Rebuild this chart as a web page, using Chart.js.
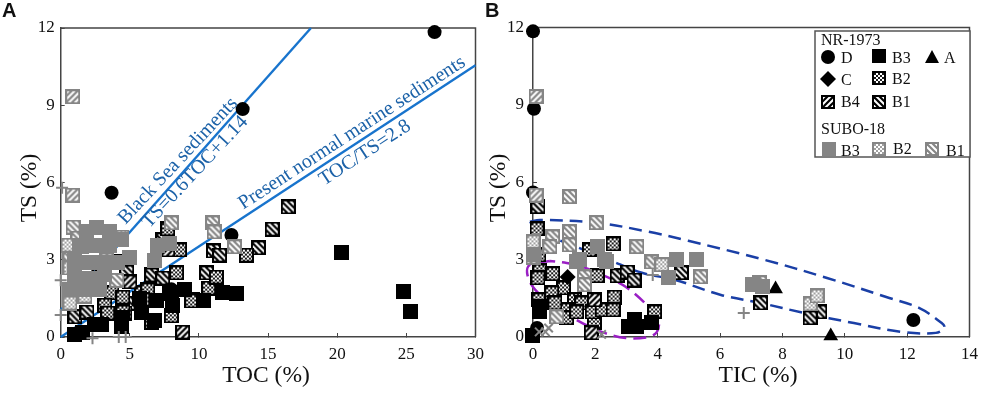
<!DOCTYPE html>
<html><head><meta charset="utf-8">
<style>html,body{margin:0;padding:0;background:#fff;width:989px;height:393px;overflow:hidden}
#wa{position:absolute;left:0;top:0;width:495px;height:393px}
#wb{position:absolute;left:470px;top:0;width:519px;height:393px}</style>
<script src="https://cdn.jsdelivr.net/npm/chart.js@4/dist/chart.umd.min.js"></script>
</head><body>
<div id="wa"><canvas id="a"></canvas></div>
<div id="wb"><canvas id="b"></canvas></div>
<script>
// ---- Panel A: [TOC, TS]
const aSuboB3=[[2.62,4.27],[3.55,4.08],[1.9,4.08],[1.39,3.57],[2.47,3.57],[3.55,3.57],[4.42,3.77],[5.0,3.07],[1.03,2.99],[2.11,2.91],[3.19,2.91],[4.13,2.91],[1.03,2.41],[2.11,2.29],[3.19,2.41],[0.67,1.83],[1.75,1.83],[2.83,1.83],[6.8,2.99],[7.0,3.57],[7.88,3.65]];
const aSuboB2=[[4.42,3.88],[1.75,1.59],[0.67,1.32],[0.67,2.68],[0.53,3.57]];
const aSuboB1=[[0.87,9.33],[0.87,5.51],[0.89,4.27],[1.25,3.84],[1.54,3.5],[0.67,3.1],[3.34,2.99],[4.06,2.2],[8.0,4.43],[10.98,4.43],[11.1,4.08],[12.57,3.5]];
const aCross=[[0,2.2],[0,0.85],[0.1,5.8],[2.3,-0.05],[4.2,0],[4.7,0]];
const aB3=[[20.33,3.27],[24.8,1.75],[25.3,1.0],[12.7,1.67],[11.7,1.71],[10.3,1.4],[8.96,1.83],[8.1,1.24],[6.94,1.4],[5.86,0.97],[6.8,0.66],[7.88,1.71],[5.72,1.51],[2.98,0.47],[4.42,0.39],[4.42,0.74],[1.03,0.08],[1.61,0.16],[2.47,0.47]];
const aD=[[3.68,5.6],[13.16,8.85],[12.35,3.96],[27.04,11.84],[8.0,1.85]];
const aC=[[2.33,2.33]];
const aA=[[3.12,3.57]];
const aB4=[[7.74,3.38],[8.82,0.19],[8.0,1.7],[5.0,2.14]];
const aB2=[[3.05,2.41],[3.7,1.71],[3.19,1.24],[4.49,1.55],[5.86,1.71],[3.4,0.93],[4.64,0.93],[4.5,0.97],[6.3,1.83],[5.93,1.44],[6.58,0.58],[8.0,0.82],[8.38,2.49],[9.55,1.44],[10.7,1.9],[11.26,2.33],[8.6,3.38],[7.74,4.2],[9.47,1.4],[13.43,3.18]];
const aB1=[[1.03,0.78],[1.9,0.97],[4.27,2.95],[4.78,2.52],[5.14,1.32],[6.58,2.41],[7.38,2.29],[7.38,3.77],[10.55,2.49],[11.05,3.34],[11.49,3.18],[14.3,3.46],[15.3,4.19],[16.46,5.05]];
const lineBlackSea=[[0,1.05],[18.1,12]];
const lineNormal=[[0,0],[30,10.55]];
// ---- Panel B: [TIC, TS]
const bSuboB3=[[2.06,3.5],[1.49,3],[2.29,3],[2.35,2.91],[4.35,2.29],[4.6,3],[5.24,3],[7.05,2.02],[7.37,1.94],[1.4,2.91],[0,3.18]];
const bSuboB2=[[0,3.69],[4.13,2.8],[8.89,1.28],[9.11,1.59]];
const bSuboB1=[[0.1,9.32],[0.1,5.5],[1.17,5.44],[2.03,4.43],[1.17,4.08],[0.63,3.88],[1.17,3.57],[0.54,3.5],[3.33,3.5],[3.81,2.91],[5.37,2.33],[1.65,2.33],[1.65,2.02],[0.76,0.78],[7.27,2.1],[0,3.1]];
const bCross=[[6.76,0.93],[3.84,2.4]];
const bStar=[[0.2,0.2],[0.4,0.2],[0.5,0.35],[2.2,0.1]];
const bB3=[[3.05,0.39],[3.33,0.39],[3.27,0.66],[3.81,0.58],[-0.03,0.04],[0.22,0.97],[0.22,1.2]];
const bD=[[0,11.85],[0.03,8.85],[0,5.6],[0.13,0.35],[12.2,0.66]];
const bC=[[1.11,2.33]];
const bA=[[7.78,1.86],[9.55,0.04]];
const bB4=[[1.87,0.16],[1.97,1.44]];
const bB2=[[0.13,4.19],[0.19,3.18],[0.22,2.56],[0.16,2.29],[0.63,2.45],[1.81,3.38],[2.57,3.61],[2.06,2.37],[0.98,1.9],[0.19,1.44],[0.6,1.71],[1.33,1.44],[1.56,1.32],[1.08,1.05],[1.08,0.74],[0.7,1.32],[1.97,0.58],[1.9,0.97],[2.22,1.05],[2.6,1.55],[2.57,1.05],[3.9,0.97],[1.4,0.97]];
const bB1=[[0.16,5.05],[2.7,2.37],[3.02,2.52],[3.24,2.21],[4.76,2.49],[7.3,1.32],[9.2,0.97],[8.89,0.74]];
const blueLoop=[[-0.1,4.47],[0.22,4.54],[2.03,4.43],[3.71,4.08],[4.98,3.73],[7.43,2.99],[9.43,2.29],[11.33,1.55],[12.38,1.13],[13.1,0.55],[13.2,0.36],[12.92,0.16],[11.87,0.19],[10.29,0.54],[8.7,0.93],[7.3,1.32],[6.03,1.63],[4.57,2.21],[3.49,2.49],[2.44,2.99],[1.4,3.49],[0.32,4.04],[-0.1,4.47]];
const purpleLoop=[[0.54,2.95],[-0.1,2.8],[-0.19,2.49],[0,1.94],[0.54,1.32],[1.4,0.66],[2.22,0.19],[2.98,-0.04],[3.71,0],[3.97,0.19],[4.03,0.58],[3.71,1.16],[2.98,1.94],[2.22,2.41],[1.59,2.72],[1.08,2.87],[0.54,2.95]];
const xTicksA=[0,5,10,15,20,25,30];
const xTicksB=[0,2,4,6,8,10,12,14];
const yTicks=[0,3,6,9,12];

const GREY='#858585', SERIF='"Liberation Serif","Times New Roman",serif';
function tile(kind,s){
  const c=document.createElement('canvas');c.width=c.height=s;const g=c.getContext('2d');
  const sub=kind[0]==='s';const edge=sub?GREY:'#000';const k=kind.slice(1);
  g.fillStyle=edge;g.fillRect(0,0,s,s);
  if(k==='solid')return c;
  const m=2;g.save();g.beginPath();g.rect(m,m,s-2*m,s-2*m);g.clip();
  if(k==='dot'){
    g.fillStyle='#fff';g.fillRect(m,m,s-2*m,s-2*m);
    g.fillStyle=sub?'#a0a0a0':'#1a1a1a';
    for(let y=0;y<s;y+=2)for(let x=0;x<s;x+=2)if(((x+y)/2)%2===0)g.fillRect(x,y,2,2);
  }else{
    g.strokeStyle='#fff';g.lineWidth=2;
    for(let i=-s-1;i<2*s;i+=6){g.beginPath();
      if(k==='fwd'){g.moveTo(i,s);g.lineTo(i+s,0);}else{g.moveTo(i,0);g.lineTo(i+s,s);}
      g.stroke();}
  }
  g.restore();return c;
}
const T={kB3:tile('ksolid',15),kB2:tile('kdot',15),kB4:tile('kfwd',15),kB1:tile('kbak',15),
  sB3:tile('ssolid',15),sB2:tile('sdot',15),sB1:tile('sbak',15),sF:tile('sfwd',15)};
const LT={kB3:tile('ksolid',14),kB2:tile('kdot',14),kB4:tile('kfwd',14),kB1:tile('kbak',14),
  sB3:tile('ssolid',14),sB2:tile('sdot',14),sB1:tile('sbak',14)};
const pts=a=>a.map(p=>({x:p[0],y:p[1]}));
const marks=(d,style,extra)=>Object.assign({data:pts(d),pointStyle:style,radius:7.5,backgroundColor:'#000',borderColor:'#000',borderWidth:0,showLine:false,clip:false},extra||{});
const cross=(d,style)=>marks(d,style,{borderColor:GREY,borderWidth:2,radius:6,backgroundColor:'transparent'});
const line=(d,col,extra)=>Object.assign({data:pts(d),showLine:true,pointRadius:0,borderColor:col,borderWidth:2.4,clip:false},extra||{});

function axes(xTicks,xMax,leftW,lblPad){
  const lab={color:'#111',font:{family:SERIF,size:17}};
  const grid={drawOnChartArea:false,drawTicks:true,tickLength:-4,color:'#444',lineWidth:1};
  const border={display:true,color:'#444',width:1.5};
  return {
    x:{type:'linear',min:0,max:xMax,grid,border,
       afterBuildTicks:s=>{s.ticks=xTicks.map(v=>({value:v}));},
       ticks:Object.assign({padding:11,maxRotation:0,autoSkip:false},lab),
       afterFit:s=>{s.height=56;}},
    y:{type:'linear',min:0,max:12,grid,border,
       afterBuildTicks:s=>{s.ticks=yTicks.map(v=>({value:v}));},
       ticks:Object.assign({padding:lblPad,autoSkip:false},lab),
       afterFit:s=>{s.width=leftW;}}
  };
}
const frame={id:'frame',beforeDatasetsDraw(c){const a=c.chartArea,g=c.ctx;g.save();g.strokeStyle='#444';g.lineWidth=1.5;
  g.beginPath();g.moveTo(a.left,a.top);g.lineTo(a.right,a.top);g.lineTo(a.right,a.bottom);g.stroke();g.restore();}};
function rot(g,txt,x,y,deg){g.save();g.translate(x,y);g.rotate(deg*Math.PI/180);g.textAlign='center';g.textBaseline='middle';g.fillText(txt,0,0);g.restore();}
const notesA={id:'notesA',afterDraw(c){const g=c.ctx;g.save();
  g.fillStyle='#111';g.font='bold 20px "Liberation Sans",Arial,sans-serif';g.textBaseline='alphabetic';g.textAlign='left';g.fillText('A',2,17);
  g.font='23.5px '+SERIF;rot(g,'TOC (%)',266,376,0);rot(g,'TS (%)',30,188,-90);
  g.fillStyle='#1c62a8';g.font='20px '+SERIF;
  rot(g,'Black Sea sediments',178,161,-47);
  rot(g,'TS=0.6TOC+1.14',195,172,-47);
  rot(g,'Present normal marine sediments',352,133,-33);
  rot(g,'TOC/TS=2.8',365,153,-33);
  g.restore();}};
const notesB={id:'notesB',afterDraw(c){const g=c.ctx,ox=470;g.save();
  g.fillStyle='#111';g.font='bold 20px "Liberation Sans",Arial,sans-serif';g.textBaseline='alphabetic';g.textAlign='left';g.fillText('B',485-ox,17);
  g.font='23.5px '+SERIF;rot(g,'TIC (%)',758-ox,376,0);rot(g,'TS (%)',499-ox,188,-90);
  g.textAlign='left';g.textBaseline='alphabetic';
  g.fillStyle='#fff';g.strokeStyle='#555';g.lineWidth=1.5;g.fillRect(815-ox,31,155,126);g.strokeRect(815-ox,31,155,126);
  g.fillStyle='#111';g.font='16px '+SERIF;
  const t=(s,x,y)=>g.fillText(s,x-ox,y);
  t('NR-1973',821,45);t('D',841,63);t('B3',892,63);t('A',944,63);t('C',841,85);t('B2',892,84);t('B4',841,107);t('B1',892,107);
  t('SUBO-18',821,134);t('B3',841,156);t('B2',893,154);t('B1',946,156);
  const im=(k,x,y)=>g.drawImage(LT[k],x-ox-7,y-7);
  im('kB3',879,56);im('kB2',879,78);im('kB4',828,102);im('kB1',879,102);im('sB3',829,149);im('sB2',879,149);im('sB1',932,149);
  g.fillStyle='#000';
  g.beginPath();g.arc(828-ox,57,7,0,7);g.fill();
  g.beginPath();g.moveTo(932-ox,50);g.lineTo(939-ox,63);g.lineTo(925-ox,63);g.closePath();g.fill();
  g.beginPath();g.moveTo(828-ox,71);g.lineTo(836-ox,79);g.lineTo(828-ox,87);g.lineTo(820-ox,79);g.closePath();g.fill();
  g.restore();}};
Chart.defaults.animation=false;
new Chart(document.getElementById('a'),{type:'scatter',plugins:[frame,notesA],
 data:{datasets:[
  cross(aCross,'cross'),
  marks(aSuboB3,T.sB3),marks(aSuboB2,T.sB2),marks(aSuboB1.slice(0,2),T.sF),marks(aSuboB1.slice(2),T.sB1),
  marks(aB3,T.kB3),
  marks(aD,'circle',{radius:7}),
  marks(aC,'rectRot',{radius:8}),
  marks(aA,'triangle',{radius:8.5}),
  marks(aB4,T.kB4),marks(aB2,T.kB2),marks(aB1,T.kB1),
  line(lineBlackSea,'#1874cd'),line(lineNormal,'#1874cd')
 ]},
 options:{responsive:true,maintainAspectRatio:false,events:[],
  layout:{padding:{left:0,right:18,top:28,bottom:0}},
  plugins:{legend:{display:false},tooltip:{enabled:false}},
  scales:axes(xTicksA,30,60.7,10)}});
new Chart(document.getElementById('b'),{type:'scatter',plugins:[frame,notesB],
 data:{datasets:[
  cross(bCross,'cross'),cross(bStar,'crossRot'),
  marks(bSuboB3,T.sB3),marks(bSuboB2,T.sB2),marks(bSuboB1.slice(0,2),T.sF),marks(bSuboB1.slice(2),T.sB1),
  marks(bB3,T.kB3),
  marks(bD,'circle',{radius:7}),
  marks(bC,'rectRot',{radius:8}),
  marks(bA,'triangle',{radius:8.5}),
  marks(bB4,T.kB4),marks(bB2,T.kB2),marks(bB1,T.kB1),
  line(blueLoop,'#1a3fa6',{borderWidth:2.5,borderDash:[13,7],tension:0.35}),
  line(purpleLoop,'#9a1fc4',{borderWidth:2.5,borderDash:[13,7],tension:0.35})
 ]},
 options:{responsive:true,maintainAspectRatio:false,events:[],
  layout:{padding:{left:0,right:15,top:27.5,bottom:0}},
  plugins:{legend:{display:false},tooltip:{enabled:false}},
  scales:axes(xTicksB,14,63,13)}});
</script></body></html>
